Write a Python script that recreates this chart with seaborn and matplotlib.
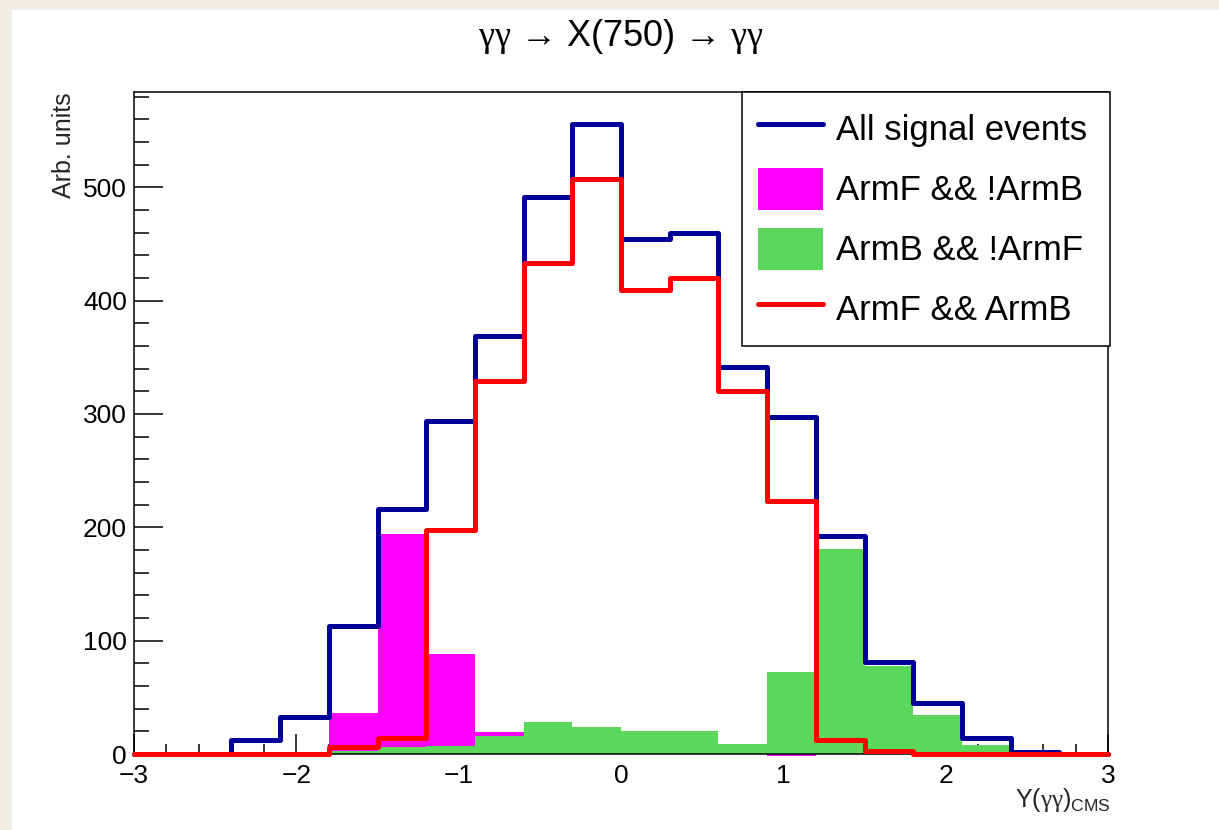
import numpy as np
import pandas as pd
import seaborn as sns
from matplotlib import pyplot as plt
from matplotlib.lines import Line2D
from matplotlib.patches import Patch, Rectangle
from matplotlib.ticker import MultipleLocator

# 20 bins of width 0.3 on Y(gg)_CMS from -3 to 3
bin_edges = [round(v, 2) for v in np.linspace(-3, 3, 21)]
bin_centers = [(a + b) / 2 for a, b in zip(bin_edges[:-1], bin_edges[1:])]

all_signal = [0, 0, 12, 33, 113, 216, 294, 369, 491, 556,
              454, 460, 341, 297, 192, 81, 45, 14, 2, 0]
armf_not_b = [0, 0, 0, 0, 36, 194, 88, 19, 0, 0,
              0, 0, 0, -2, 0, 0, 0, 0, 0, 0]
armb_not_f = [0, 0, 1, 1, 3, 6, 7, 16, 28, 24,
              20, 20, 9, 72, 181, 78, 34, 8, 3, 0]
armf_and_b = [0, 0, 0, 0, 6, 14, 198, 329, 433, 507,
              409, 420, 320, 223, 12, 3, 0, 0, 0, 0]

labels = ["All signal events", "ArmF && !ArmB", "ArmB && !ArmF", "ArmF && ArmB"]
colors = ["#000099", "#ff00ff", "#5bd75b", "#ff0000"]

df = pd.DataFrame({
    "y": bin_centers,
    "all": all_signal,
    "f_not_b": armf_not_b,
    "b_not_f": armb_not_f,
    "f_and_b": armf_and_b,
})

sns.set_style("ticks")
plt.rcParams["font.family"] = ["Liberation Sans", "DejaVu Sans"]
plt.rcParams["mathtext.fontset"] = "custom"
plt.rcParams["mathtext.rm"] = "Liberation Sans"
plt.rcParams["mathtext.sf"] = "Liberation Serif"  # serif gamma like ROOT's symbol font
plt.rcParams["axes.unicode_minus"] = True
plt.rcParams["text.color"] = "black"
plt.rcParams["xtick.color"] = "black"
plt.rcParams["ytick.color"] = "black"

W, H = 1219, 830
fig = plt.figure(figsize=(W / 100, H / 100), dpi=100, facecolor="#efece5")
# white slide canvas on the beige page
fig.patches.append(Rectangle((12 / W, 0), 1 - 12 / W, 1 - 10 / H,
                             transform=fig.transFigure, facecolor="white",
                             edgecolor="none", zorder=-1))
ax = fig.add_axes([134 / W, 1 - 754 / H, (1108 - 134) / W, (754 - 92) / H])
ax.set_facecolor("white")

lw = 3.6
sns.histplot(data=df, x="y", weights="f_not_b", bins=bin_edges, element="step",
             fill=True, color=colors[1], alpha=1, linewidth=0, ax=ax, zorder=1,
             clip_on=False)
sns.histplot(data=df, x="y", weights="b_not_f", bins=bin_edges, element="step",
             fill=True, color=colors[2], alpha=1, linewidth=0, ax=ax, zorder=2)
sns.histplot(data=df, x="y", weights="all", bins=bin_edges, element="step",
             fill=False, color=colors[0], linewidth=lw, ax=ax, zorder=4, clip_on=False)
sns.histplot(data=df, x="y", weights="f_and_b", bins=bin_edges, element="step",
             fill=False, color=colors[3], linewidth=lw, ax=ax, zorder=5, clip_on=False)

ax.set_xlim(-3, 3)
ax.set_ylim(0, 584)
for s in ax.spines.values():
    s.set_visible(True)
    s.set_linewidth(1.1)
    s.set_color("black")

ax.xaxis.set_major_locator(MultipleLocator(1))
ax.xaxis.set_minor_locator(MultipleLocator(0.2))
ax.yaxis.set_major_locator(MultipleLocator(100))
ax.yaxis.set_minor_locator(MultipleLocator(20))
ax.tick_params(axis="both", which="both", direction="in", width=1.1, color="black",
               labelsize=19, top=False, right=False)
ax.tick_params(axis="x", which="major", length=14.3, pad=7)
ax.tick_params(axis="x", which="minor", length=7.2)
ax.tick_params(axis="y", which="major", length=21, pad=5)
ax.tick_params(axis="y", which="minor", length=10.5)

ax.set_xlabel(r"$\mathrm{Y(}\mathsf{γγ}\mathrm{)}_{\mathrm{CMS}}$", fontsize=18, loc="right")
ax.xaxis.set_label_coords(1.003, -0.048)
ax.set_ylabel("Arb. units", fontsize=18, loc="top")
ax.yaxis.set_label_coords(-0.06, 1.0)

fig.text(621 / W, 1 - 36 / H, r"$\mathsf{γγ}$ → X(750) → $\mathsf{γγ}$", fontsize=26,
         ha="center", va="center")

handles = [
    Line2D([0], [0], color=colors[0], lw=lw),
    Patch(facecolor=colors[1], edgecolor="none"),
    Patch(facecolor=colors[2], edgecolor="none"),
    Line2D([0], [0], color=colors[3], lw=lw),
]
x0 = (742 - 134) / (1108 - 134)
x1 = (1110 - 134) / (1108 - 134)
leg = ax.legend(handles, labels, loc="upper left", bbox_to_anchor=(x0, 1.0, x1 - x0, 0),
                mode="expand", borderaxespad=0, fontsize=25, handlelength=1.87,
                handleheight=1.51, handletextpad=0.4, labelspacing=0.5,
                borderpad=0.45, fancybox=False, framealpha=1)
leg.get_frame().set_edgecolor("black")
leg.get_frame().set_linewidth(1.1)
leg.set_zorder(6)

fig.savefig("out.png", dpi=100, facecolor=fig.get_facecolor())
